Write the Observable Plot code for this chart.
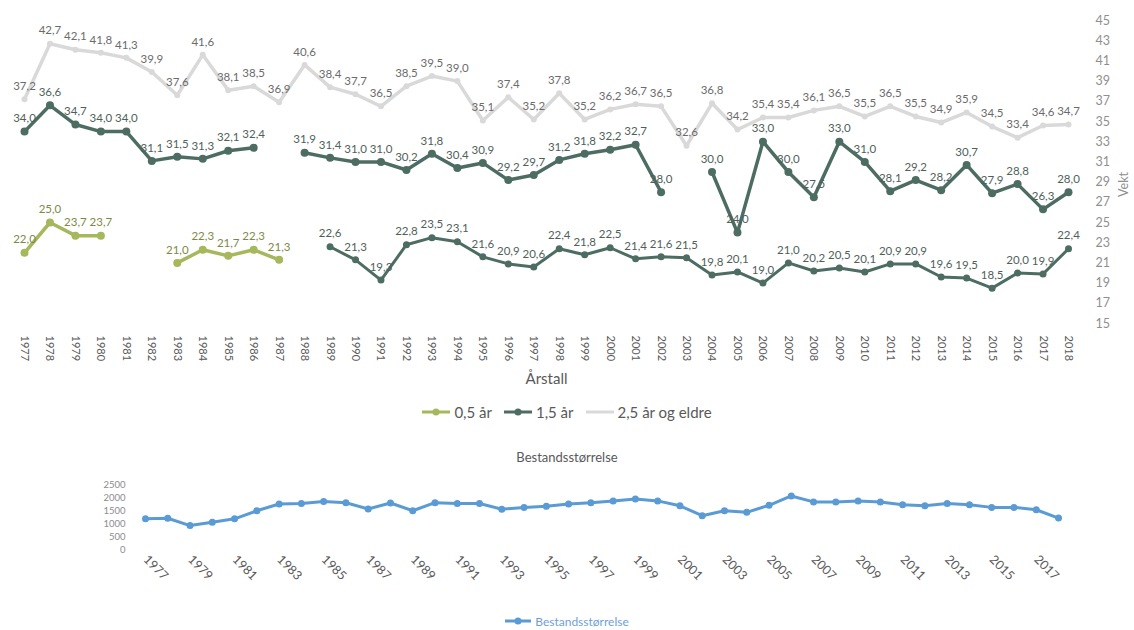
<!DOCTYPE html>
<html><head><meta charset="utf-8">
<script src="https://cdn.jsdelivr.net/npm/d3@7"></script>
<script src="https://cdn.jsdelivr.net/npm/@observablehq/plot@0.6"></script>
<style>
body{margin:0;background:#fff;font-family:Lato,"Open Sans",sans-serif;}
#wrap{position:relative;width:1134px;height:630px;overflow:hidden;background:#fff;}
.abs{position:absolute;left:0;width:1134px;}
.legend{display:flex;align-items:center;justify-content:center;font-size:15px;color:#595959;height:20px;}
.legend .item{display:flex;align-items:center;margin:0 6px;}
.legend svg{margin-right:4px;}
.title{text-align:center;font-size:13px;color:#595959;}
</style></head><body>
<div id="wrap">
  <div id="top" class="abs" style="top:0"></div>
  <div id="legTop" class="abs legend" style="top:402px"></div>
  <div class="abs title" style="top:449px">Bestandsstørrelse</div>
  <div id="bottom" class="abs" style="top:470px"></div>
  <div id="legBot" class="abs legend" style="top:611px;font-size:12px;color:#6f9fd8"></div>
</div>
<script>
const years = [1977,1978,1979,1980,1981,1982,1983,1984,1985,1986,1987,1988,1989,1990,1991,1992,1993,1994,1995,1996,1997,1998,1999,2000,2001,2002,2003,2004,2005,2006,2007,2008,2009,2010,2011,2012,2013,2014,2015,2016,2017,2018];
// Vekt, 0,5 år (kalv)
const calves = [22.0,25.0,23.7,23.7,null,null,21.0,22.3,21.7,22.3,21.3,null,22.6,21.3,19.3,22.8,23.5,23.1,21.6,20.9,20.6,22.4,21.8,22.5,21.4,21.6,21.5,19.8,20.1,19.0,21.0,20.2,20.5,20.1,20.9,20.9,19.6,19.5,18.5,20.0,19.9,22.4];
// Vekt, 1,5 år
const yearlings = [34.0,36.6,34.7,34.0,34.0,31.1,31.5,31.3,32.1,32.4,null,31.9,31.4,31.0,31.0,30.2,31.8,30.4,30.9,29.2,29.7,31.2,31.8,32.2,32.7,28.0,null,30.0,24.0,33.0,30.0,27.5,33.0,31.0,28.1,29.2,28.2,30.7,27.9,28.8,26.3,28.0];
// Vekt, 2,5 år og eldre
const adults = [37.2,42.7,42.1,41.8,41.3,39.9,37.6,41.6,38.1,38.5,36.9,40.6,38.4,37.7,36.5,38.5,39.5,39.0,35.1,37.4,35.2,37.8,35.2,36.2,36.7,36.5,32.6,36.8,34.2,35.4,35.4,36.1,36.5,35.5,36.5,35.5,34.9,35.9,34.5,33.4,34.6,34.7];
// Bestandsstørrelse
const herd = [1180,1200,920,1050,1180,1490,1750,1770,1850,1800,1560,1790,1490,1800,1770,1770,1550,1620,1660,1750,1800,1870,1940,1870,1680,1300,1490,1430,1700,2060,1830,1830,1870,1830,1720,1680,1770,1720,1620,1620,1530,1210];
const vektTicks = [15,17,19,21,23,25,27,29,31,33,35,37,39,41,43,45];
const herdTicks = [0,500,1000,1500,2000,2500];
const herdYearTicks = [1977,1979,1981,1983,1985,1987,1989,1991,1993,1995,1997,1999,2001,2003,2005,2007,2009,2011,2013,2015,2017];
const seriesNames = ["0,5 år","1,5 år","2,5 år og eldre"];
const seriesColors = ["#a5b85c","#4d6d62","#d9d9d9"];
const herdName = "Bestandsstørrelse";
const herdColor = "#5b9bd5";

const rows = years.map((year,i)=>({year, calves:calves[i], yearlings:yearlings[i], adults:adults[i], herd:herd[i]}));
const fmt = v => v == null ? "" : v.toFixed(1).replace(".", ",");
const font = "Lato, 'Open Sans', sans-serif";

const topChart = Plot.plot({
  width:1134, height:395,
  marginLeft:24, marginRight:66, marginTop:20, marginBottom:72,
  style:{fontFamily:font, background:"transparent", overflow:"visible"},
  x:{domain:[1977,2018], axis:null},
  y:{domain:[15,45], axis:null},
  marks:[
    Plot.axisX({ticks:years, tickFormat:"d", tickRotate:90, tickSize:0, tickPadding:12, fontSize:11, color:"#595959", label:null}),
    Plot.axisY({anchor:"right", ticks:vektTicks, tickSize:0, tickPadding:27, fontSize:12.5, color:"#8f8f8f", label:null}),
    Plot.text(["Årstall"], {frameAnchor:"bottom", dy:60, fontSize:15, fill:"#595959"}),
    Plot.text(["Vekt"], {frameAnchor:"right", dx:55, dy:0, rotate:-90, fontSize:12.5, fill:"#8f8f8f"}),
    // 2,5 år og eldre
    Plot.line(rows, {x:"year", y:"adults", stroke:seriesColors[2], strokeWidth:3.5}),
    Plot.dot(rows, {x:"year", y:"adults", r:3, fill:seriesColors[2]}),
    // 1,5 år
    Plot.line(rows, {x:"year", y:"yearlings", stroke:seriesColors[1], strokeWidth:3.5}),
    Plot.dot(rows, {x:"year", y:"yearlings", r:4, fill:seriesColors[1]}),
    // 0,5 år
    Plot.line(rows, {filter:d=>d.year<1988, x:"year", y:"calves", stroke:seriesColors[0], strokeWidth:3.5}),
    Plot.dot(rows, {filter:d=>d.year<1988, x:"year", y:"calves", r:4, fill:seriesColors[0]}),
    Plot.line(rows, {filter:d=>d.year>1988, x:"year", y:"calves", stroke:seriesColors[1], strokeWidth:3}),
    Plot.dot(rows, {filter:d=>d.year>1988, x:"year", y:"calves", r:3.5, fill:seriesColors[1]}),
    // data labels
    Plot.text(rows, {filter:d=>d.adults!=null, x:"year", y:"adults", text:d=>fmt(d.adults), dy:-13, fontSize:11.5, fill:"#6b6b6b"}),
    Plot.text(rows, {filter:d=>d.yearlings!=null, x:"year", y:"yearlings", text:d=>fmt(d.yearlings), dy:-13, fontSize:11.5, fill:"#4f5f5a"}),
    Plot.text(rows, {filter:d=>d.calves!=null, x:"year", y:"calves", text:d=>fmt(d.calves), dy:-13, fontSize:11.5, fill:d=>d.year<1988 ? "#7d8a45" : "#4f5f5a"})
  ]
});
document.getElementById("top").appendChild(topChart);

const botChart = Plot.plot({
  width:1134, height:140,
  marginLeft:145, marginRight:76, marginTop:14, marginBottom:61,
  style:{fontFamily:font, background:"transparent", overflow:"visible"},
  x:{domain:[1977,2018], axis:null},
  y:{domain:[0,2500], axis:null},
  marks:[
    Plot.axisX({ticks:herdYearTicks, tickFormat:"d", tickRotate:45, tickSize:0, tickPadding:8, fontSize:12.5, color:"#595959", label:null}),
    Plot.axisY({ticks:herdTicks, tickFormat:"d", tickSize:0, tickPadding:20, fontSize:9.5, color:"#8c8c8c", label:null}),
    Plot.line(rows, {x:"year", y:"herd", stroke:herdColor, strokeWidth:3}),
    Plot.dot(rows, {x:"year", y:"herd", r:3.5, fill:herdColor})
  ]
});
document.getElementById("bottom").appendChild(botChart);

function swatch(color, w, dot){
  return `<svg width="${w}" height="10"><line x1="0" y1="5" x2="${w}" y2="5" stroke="${color}" stroke-width="3"/>${dot?`<circle cx="${w/2}" cy="5" r="3.5" fill="${color}"/>`:""}</svg>`;
}
document.getElementById("legTop").innerHTML = seriesNames.map((n,i)=>`<span class="item">${swatch(seriesColors[i], 28, i<2)}${n}</span>`).join("");
document.getElementById("legBot").innerHTML = `<span class="item">${swatch(herdColor, 26, true)}${herdName}</span>`;
</script>
</body></html>
